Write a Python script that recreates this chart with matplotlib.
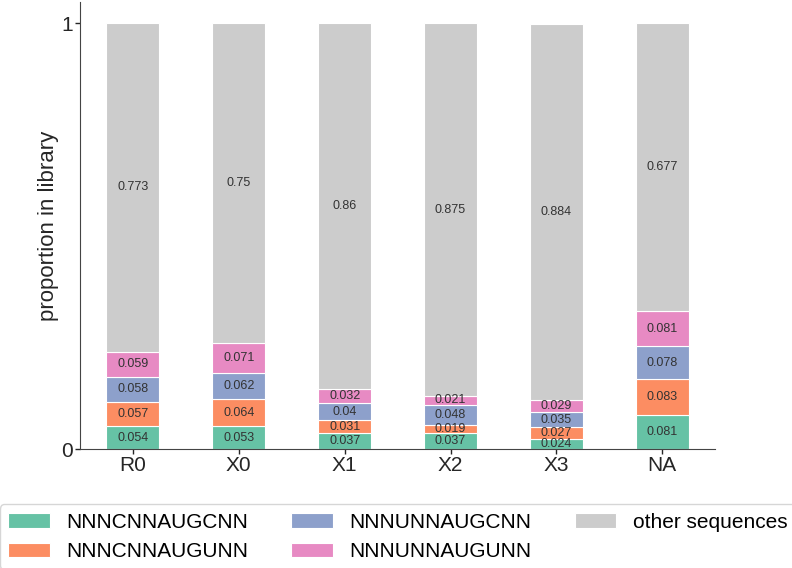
import matplotlib
matplotlib.use("Agg")
import matplotlib.pyplot as plt
import numpy as np

plt.rcParams['font.family'] = ['Liberation Sans', 'DejaVu Sans']

samples = ["R0", "X0", "X1", "X2", "X3", "NA"]
series_names = ["NNNCNNAUGCNN", "NNNCNNAUGUNN", "NNNUNNAUGCNN",
                "NNNUNNAUGUNN", "other sequences"]
nnncnnaugcnn = [0.054, 0.053, 0.037, 0.037, 0.024, 0.081]
nnncnnaugunn = [0.057, 0.064, 0.031, 0.019, 0.027, 0.083]
nnnunnaugcnn = [0.058, 0.062, 0.040, 0.048, 0.035, 0.078]
nnnunnaugunn = [0.059, 0.071, 0.032, 0.021, 0.029, 0.081]
other_seqs = [0.773, 0.750, 0.860, 0.875, 0.884, 0.677]
label_text = [
    ["0.054", "0.053", "0.037", "0.037", "0.024", "0.081"],
    ["0.057", "0.064", "0.031", "0.019", "0.027", "0.083"],
    ["0.058", "0.062", "0.04", "0.048", "0.035", "0.078"],
    ["0.059", "0.071", "0.032", "0.021", "0.029", "0.081"],
    ["0.773", "0.75", "0.86", "0.875", "0.884", "0.677"],
]
colors = ["#66c2a5", "#fc8d62", "#8da0cb", "#e78ac3", "#cccccc"]

values = [nnncnnaugcnn, nnncnnaugunn, nnnunnaugcnn, nnnunnaugunn, other_seqs]

fig = plt.figure(figsize=(7.92, 5.68), dpi=100)
ax = fig.add_axes([0.101, 0.2095, 0.802, 0.787])

x = np.arange(len(samples))
bottom = np.zeros(len(samples))
handles = []
for vals, name, col, labs in zip(values, series_names, colors, label_text):
    vals = np.array(vals)
    bars = ax.bar(x, vals, width=0.5, bottom=bottom, color=col,
                  edgecolor="white", linewidth=0.8, label=name)
    handles.append(bars)
    for xi, b, v, t in zip(x, bottom, vals, labs):
        ax.text(xi, b + v / 2, t, ha="center", va="center", fontsize=9,
                color="#333333")
    bottom = bottom + vals

ax.set_xlim(-0.5, 5.5)
ax.set_ylim(0, 1.05)
ax.set_yticks([0, 1])
ax.set_yticklabels(["0", "1"])
ax.set_xticks(x)
ax.set_xticklabels(samples)
ax.tick_params(axis="both", labelsize=15, colors="#262626", length=3.5,
               width=1, pad=1.5)
ax.set_ylabel("proportion in library", fontsize=16, color="#262626",
              labelpad=2)
for s in ["top", "right"]:
    ax.spines[s].set_visible(False)
for s in ["left", "bottom"]:
    ax.spines[s].set_color("#444444")

fig.legend(handles=handles, labels=series_names, loc="upper left",
           bbox_to_anchor=(0.0, 0.112), ncol=3, fontsize=15,
           frameon=True, edgecolor="#cccccc", handlelength=2.0,
           columnspacing=2.05, borderaxespad=0)

fig.savefig("out.png", dpi=100)
